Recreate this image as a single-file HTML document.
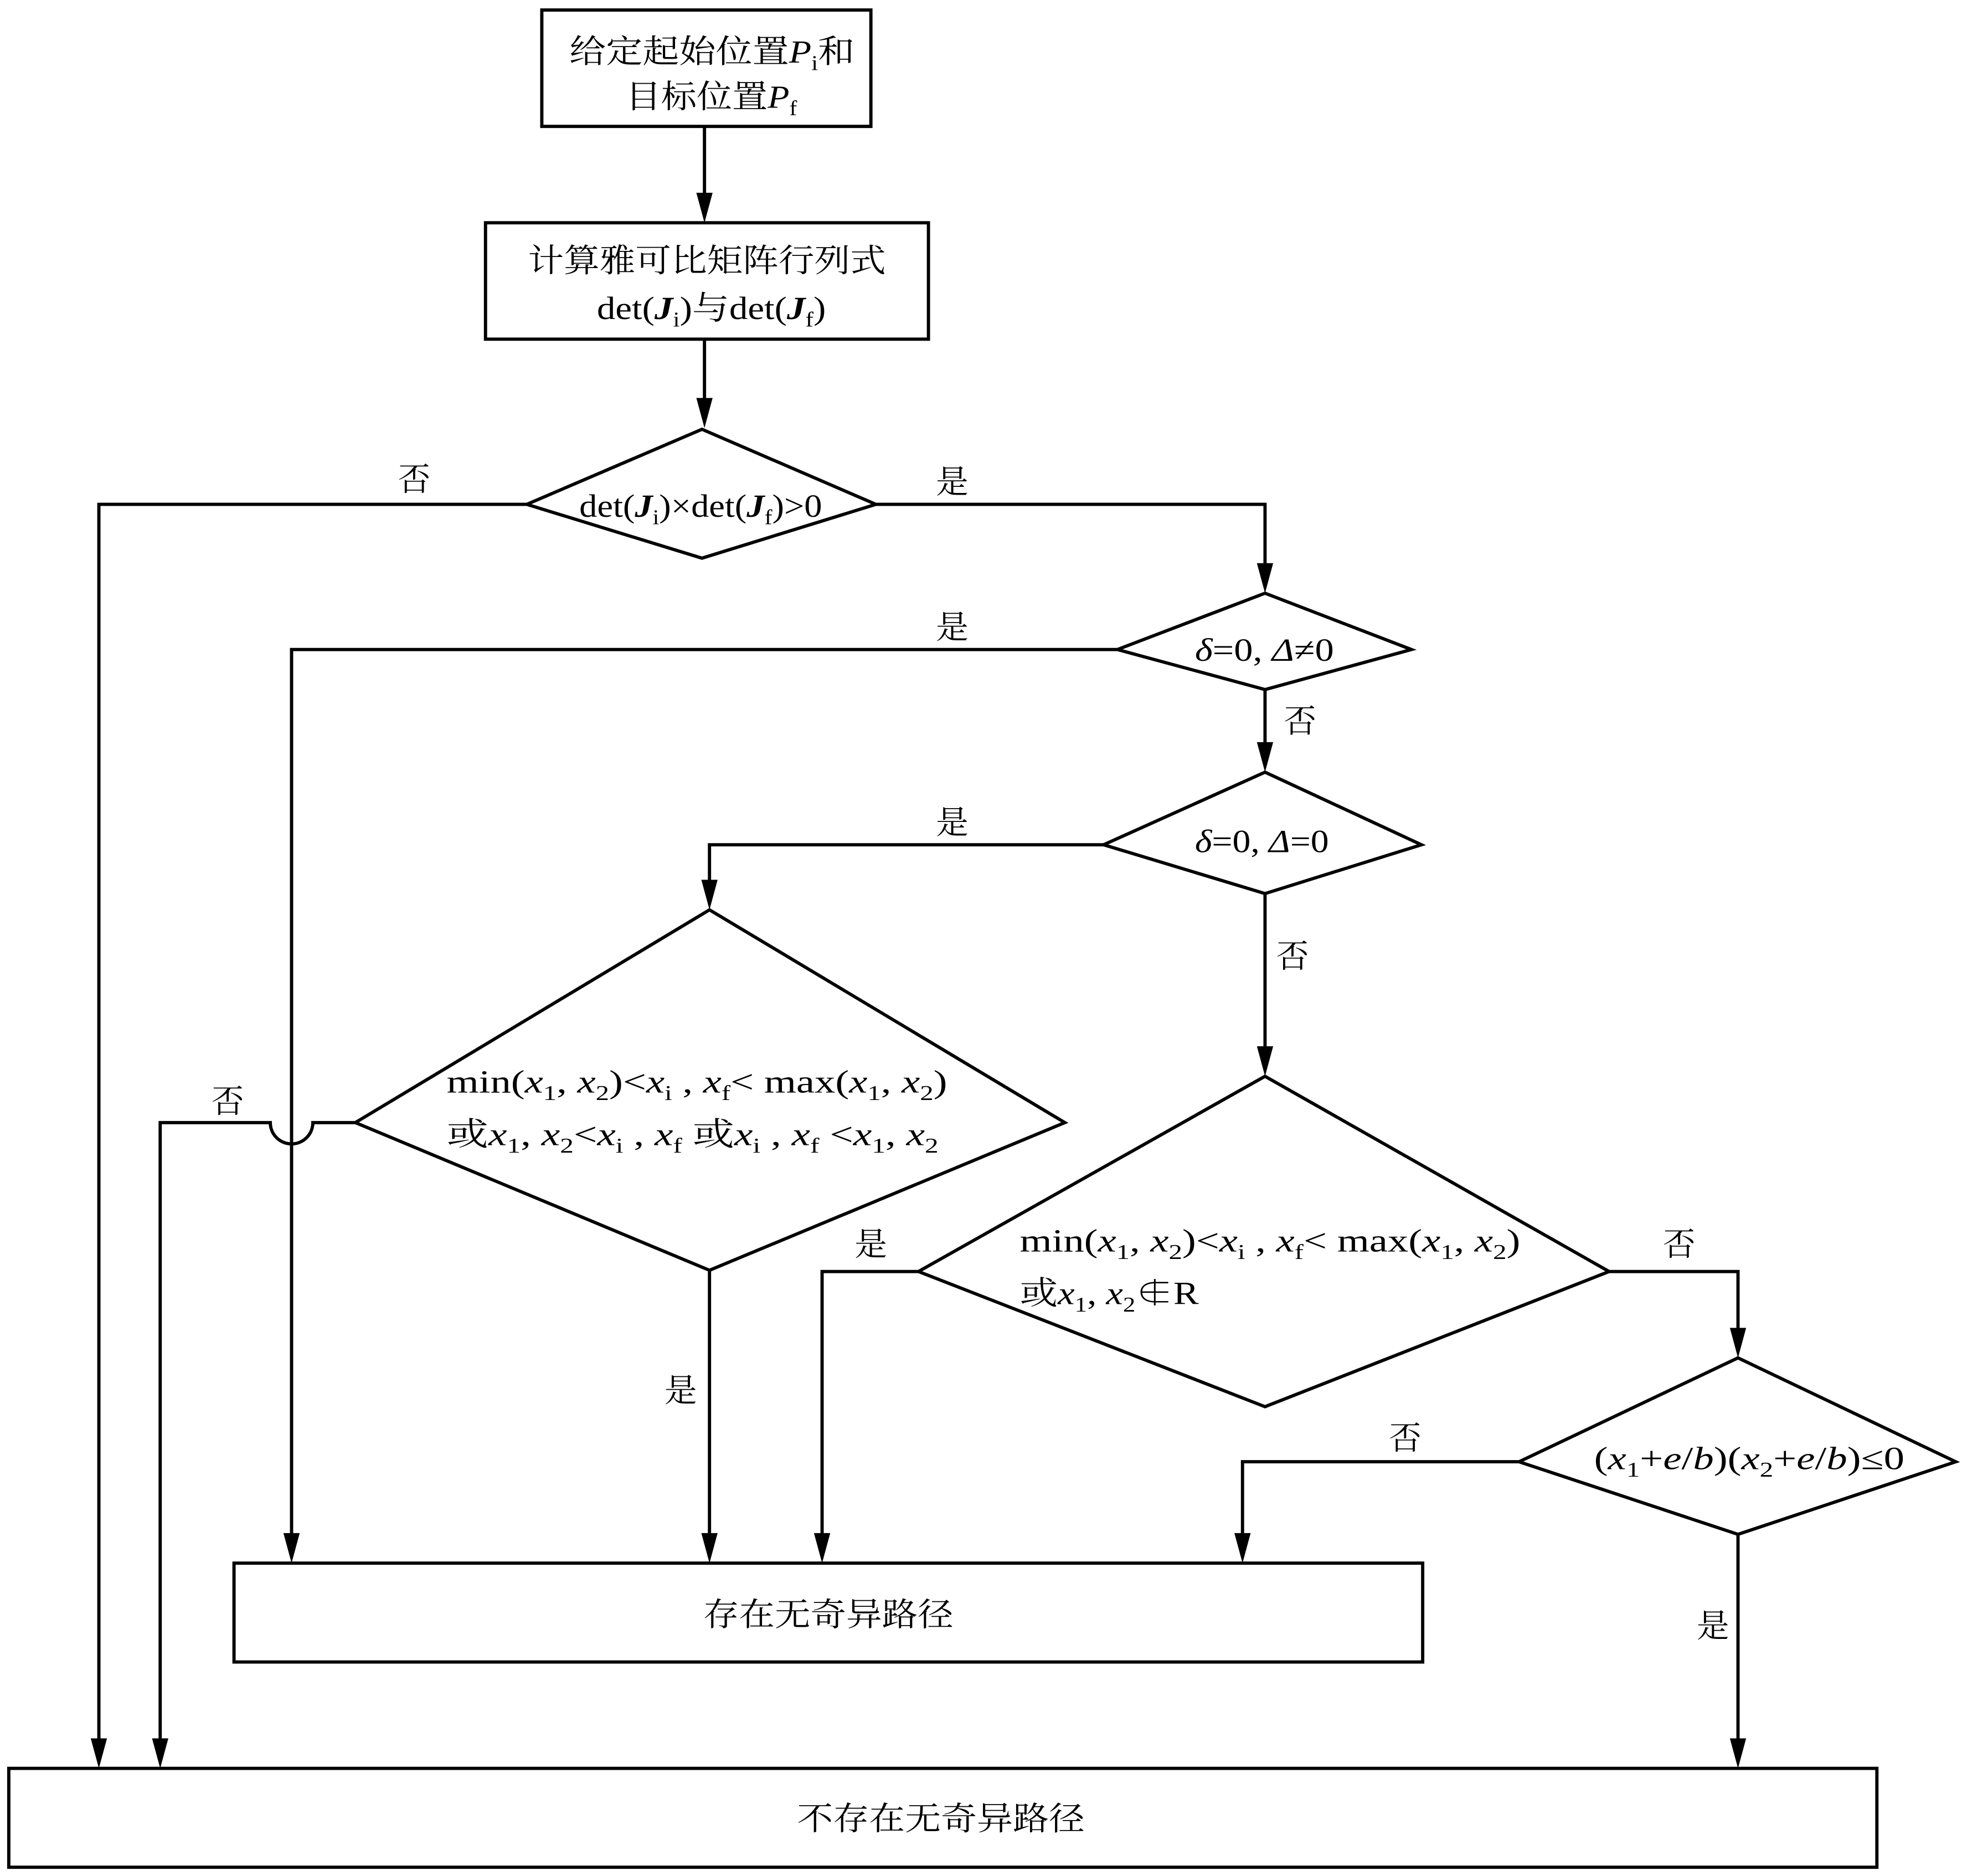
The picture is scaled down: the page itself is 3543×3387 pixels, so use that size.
<!DOCTYPE html>
<html><head><meta charset="utf-8"><style>
html,body{margin:0;padding:0;background:#fff;}
svg{display:block;}
text{font-family:"Liberation Serif","Noto Serif CJK SC",serif;font-size:26px;fill:#000;}
.s{font-size:17px;}
</style></head><body>
<svg width="3543" height="3387" viewBox="0 0 1568 1499" xmlns="http://www.w3.org/2000/svg">
<defs>
<marker id="a" markerWidth="14" markerHeight="24" refX="7" refY="24" orient="auto-start-reverse" markerUnits="userSpaceOnUse" viewBox="0 0 14 24">
</marker>
</defs>
<g fill="none" stroke="#000" stroke-width="2.6" stroke-linejoin="miter">
<rect x="433" y="8" width="263" height="93"/>
<rect x="388" y="178" width="354" height="93"/>
<polygon points="421,403 561,343 700,403 561,446"/>
<polygon points="893,519 1011,474 1128,519 1011,551"/>
<polygon points="882,675 1011,617 1136,675 1011,714"/>
<polygon points="284,897 567,727 851,897 567,1015"/>
<polygon points="734,1016 1011,860 1286,1016 1011,1124"/>
<polygon points="1214,1168 1389,1085 1563,1168 1389,1226"/>
<rect x="187" y="1249" width="950" height="79"/>
<rect x="7" y="1413" width="1493" height="79"/>
<path d="M563,101 V160"/>
<path d="M563,271 V324"/>
<path d="M421,403 H79 V1395"/>
<path d="M700,403 H1011 V456"/>
<path d="M893,519 H233 V1231"/>
<path d="M1011,551 V599"/>
<path d="M882,675 H567 V709"/>
<path d="M1011,714 V842"/>
<path d="M284,897 H250 A17,17 0 0 1 216,897 H128 V1395"/>
<path d="M567,1015 V1231"/>
<path d="M734,1016 H657 V1231"/>
<path d="M1286,1016 H1389 V1067"/>
<path d="M1214,1168 H993 V1231"/>
<path d="M1389,1226 V1395"/>
</g>
<g fill="#000">
<path d="M556.5,154 L569.5,154 L563,178 Z"/>
<path d="M556.5,318 L569.5,318 L563,342 Z"/>
<path d="M72.5,1389 L85.5,1389 L79,1413 Z"/>
<path d="M1004.5,450 L1017.5,450 L1011,474 Z"/>
<path d="M226.5,1225 L239.5,1225 L233,1249 Z"/>
<path d="M1004.5,593 L1017.5,593 L1011,617 Z"/>
<path d="M560.5,703 L573.5,703 L567,727 Z"/>
<path d="M1004.5,836 L1017.5,836 L1011,860 Z"/>
<path d="M121.5,1389 L134.5,1389 L128,1413 Z"/>
<path d="M560.5,1225 L573.5,1225 L567,1249 Z"/>
<path d="M650.5,1225 L663.5,1225 L657,1249 Z"/>
<path d="M1382.5,1061 L1395.5,1061 L1389,1085 Z"/>
<path d="M986.5,1225 L999.5,1225 L993,1249 Z"/>
<path d="M1382.5,1389 L1395.5,1389 L1389,1413 Z"/>
</g>
<text x="455" y="50" textLength="228" lengthAdjust="spacingAndGlyphs">给定起始位置<tspan font-style="italic">P</tspan><tspan class="s" dy="6">i</tspan><tspan dy="-6">和</tspan></text>
<text x="500" y="86" textLength="137" lengthAdjust="spacingAndGlyphs">目标位置<tspan font-style="italic">P</tspan><tspan class="s" dy="6">f</tspan></text>
<text x="422" y="217" textLength="286" lengthAdjust="spacingAndGlyphs">计算雅可比矩阵行列式</text>
<text x="477" y="255" textLength="183" lengthAdjust="spacingAndGlyphs">det(<tspan font-style="italic" font-weight="bold">J</tspan><tspan class="s" dy="6">i</tspan><tspan dy="-6">)与det(</tspan><tspan font-style="italic" font-weight="bold">J</tspan><tspan class="s" dy="6">f</tspan><tspan dy="-6">)</tspan></text>
<text x="463" y="413" textLength="194" lengthAdjust="spacingAndGlyphs">det(<tspan font-style="italic" font-weight="bold">J</tspan><tspan class="s" dy="6">i</tspan><tspan dy="-6">)×det(</tspan><tspan font-style="italic" font-weight="bold">J</tspan><tspan class="s" dy="6">f</tspan><tspan dy="-6">)&gt;0</tspan></text>
<text x="955" y="528" textLength="111" lengthAdjust="spacingAndGlyphs"><tspan font-style="italic">δ</tspan>=0, <tspan font-style="italic">Δ</tspan>≠0</text>
<text x="955" y="681" textLength="107" lengthAdjust="spacingAndGlyphs"><tspan font-style="italic">δ</tspan>=0, <tspan font-style="italic">Δ</tspan>=0</text>
<text x="357" y="873" textLength="400" lengthAdjust="spacingAndGlyphs">min(<tspan font-style="italic">x</tspan><tspan class="s" dy="6">1</tspan><tspan dy="-6">, </tspan><tspan font-style="italic">x</tspan><tspan class="s" dy="6">2</tspan><tspan dy="-6">)&lt;</tspan><tspan font-style="italic">x</tspan><tspan class="s" dy="6">i</tspan><tspan dy="-6"> , </tspan><tspan font-style="italic">x</tspan><tspan class="s" dy="6">f</tspan><tspan dy="-6">&lt; max(</tspan><tspan font-style="italic">x</tspan><tspan class="s" dy="6">1</tspan><tspan dy="-6">, </tspan><tspan font-style="italic">x</tspan><tspan class="s" dy="6">2</tspan><tspan dy="-6">)</tspan></text>
<text x="357" y="915" textLength="393" lengthAdjust="spacingAndGlyphs">或<tspan font-style="italic">x</tspan><tspan class="s" dy="6">1</tspan><tspan dy="-6">, </tspan><tspan font-style="italic">x</tspan><tspan class="s" dy="6">2</tspan><tspan dy="-6">&lt;</tspan><tspan font-style="italic">x</tspan><tspan class="s" dy="6">i</tspan><tspan dy="-6"> , </tspan><tspan font-style="italic">x</tspan><tspan class="s" dy="6">f</tspan><tspan dy="-6">  或</tspan><tspan font-style="italic">x</tspan><tspan class="s" dy="6">i</tspan><tspan dy="-6"> , </tspan><tspan font-style="italic">x</tspan><tspan class="s" dy="6">f</tspan><tspan dy="-6"> &lt;</tspan><tspan font-style="italic">x</tspan><tspan class="s" dy="6">1</tspan><tspan dy="-6">, </tspan><tspan font-style="italic">x</tspan><tspan class="s" dy="6">2</tspan></text>
<text x="815" y="1000" textLength="400" lengthAdjust="spacingAndGlyphs">min(<tspan font-style="italic">x</tspan><tspan class="s" dy="6">1</tspan><tspan dy="-6">, </tspan><tspan font-style="italic">x</tspan><tspan class="s" dy="6">2</tspan><tspan dy="-6">)&lt;</tspan><tspan font-style="italic">x</tspan><tspan class="s" dy="6">i</tspan><tspan dy="-6"> , </tspan><tspan font-style="italic">x</tspan><tspan class="s" dy="6">f</tspan><tspan dy="-6">&lt; max(</tspan><tspan font-style="italic">x</tspan><tspan class="s" dy="6">1</tspan><tspan dy="-6">, </tspan><tspan font-style="italic">x</tspan><tspan class="s" dy="6">2</tspan><tspan dy="-6">)</tspan></text>
<text x="815" y="1042" textLength="143" lengthAdjust="spacingAndGlyphs">或<tspan font-style="italic">x</tspan><tspan class="s" dy="6">1</tspan><tspan dy="-6">, </tspan><tspan font-style="italic">x</tspan><tspan class="s" dy="6">2</tspan><tspan dy="-6">∉R</tspan></text>
<text x="1274" y="1174" textLength="248" lengthAdjust="spacingAndGlyphs">(<tspan font-style="italic">x</tspan><tspan class="s" dy="6">1</tspan><tspan dy="-6">+</tspan><tspan font-style="italic">e</tspan>/<tspan font-style="italic">b</tspan>)(<tspan font-style="italic">x</tspan><tspan class="s" dy="6">2</tspan><tspan dy="-6">+</tspan><tspan font-style="italic">e</tspan>/<tspan font-style="italic">b</tspan>)≤0</text>
<text x="562" y="1299" textLength="200" lengthAdjust="spacingAndGlyphs">存在无奇异路径</text>
<text x="637" y="1462" textLength="230" lengthAdjust="spacingAndGlyphs">不存在无奇异路径</text>
<g style="font-size:24px">
<text x="318" y="392">否</text>
<text x="748" y="394">是</text>
<text x="748" y="510">是</text>
<text x="1026" y="585">否</text>
<text x="748" y="666">是</text>
<text x="1020" y="773">否</text>
<text x="169" y="889">否</text>
<text x="531" y="1120">是</text>
<text x="683" y="1003">是</text>
<text x="1329" y="1003">否</text>
<text x="1110" y="1158">否</text>
<text x="1356" y="1308">是</text>
</g>
</svg>
</body></html>
